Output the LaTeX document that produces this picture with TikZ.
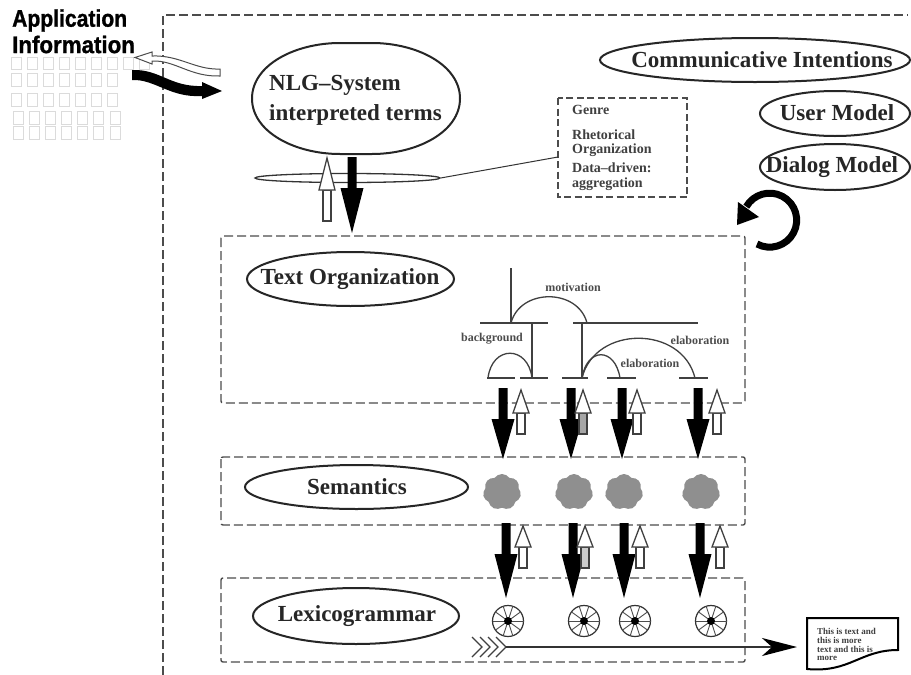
\documentclass[tikz,border=0pt]{standalone}
\usepackage{fontspec}
\usetikzlibrary{shapes.geometric,shapes.symbols,arrows.meta}
\newfontfamily\headfont[BoldFeatures={FakeBold=1.2}]{Liberation Sans}
\newfontfamily\serifbold{Liberation Serif Bold}
\definecolor{dashgray}{gray}{0.3}
\definecolor{gridgray}{gray}{0.86}
\definecolor{cloudgray}{gray}{0.56}
\tikzset{
  framebox/.style={draw=dashgray,line width=1.4pt,dash pattern=on 9pt off 4pt},
  oval/.style={ellipse,draw=black!85,line width=2pt,inner sep=0pt},
  bigtext/.style={font=\fontsize{23}{25}\serifbold\selectfont,text=black!85,inner sep=0pt},
  smalltext/.style={font=\fontsize{14}{15}\serifbold\selectfont,text=black!75,anchor=west,inner sep=0pt},
  rsttext/.style={font=\fontsize{12}{14}\serifbold\selectfont,text=black!70,inner sep=0pt},
  doctext/.style={font=\fontsize{9}{10}\serifbold\selectfont,text=black!75,anchor=west,inner sep=0pt},
  headtext/.style={font=\headfont\bfseries\fontsize{24}{24}\selectfont,anchor=west,inner sep=0pt},
  rstline/.style={draw=black!75,line width=1.3pt},
  cell/.style={draw=gridgray,line width=1pt},
  hollow/.style={draw=black!75,line width=1.3pt,fill=white},
  puff/.style={cloud,cloud puffs=7,cloud puff arc=110,aspect=1.1,fill=cloudgray,draw=none,minimum width=38pt,minimum height=36pt,inner sep=0pt},
}
\newcommand{\solidarr}[4]{\fill[black] ({#1-4.5},#2) -- ({#1+4.5},#2) -- ({#1+4.5},#3) -- ({#1+11.5},#3) -- (#1,#4) -- ({#1-11.5},#3) -- ({#1-4.5},#3) -- cycle;}
\newcommand{\openarr}[5]{%
  \draw[hollow,fill=#5] ({#1-4},#3) -- ({#1+4},#3) -- ({#1+4},#4) -- ({#1-4},#4) -- cycle;
  \draw[hollow] ({#1-4},#3) -- ({#1-8},#3) -- (#1,#2) -- ({#1+8},#3) -- ({#1+4},#3) -- cycle;}
\newcommand{\wheel}[3]{%
  \node[circle,draw=black!80,line width=1.2pt,minimum size=31pt,inner sep=0pt] (#1) at (#2,#3) {};
  \foreach \a in {0,36,...,324} {\draw[black!70,line width=.9pt] (#2,#3) -- ++(\a:15.5);}
  \fill[black] (#2,#3) circle[radius=4];}
\begin{document}
\begin{tikzpicture}[x=1pt,y=-1pt]
\useasboundingbox (0,0) rectangle (911,675);
\fill[white] (0,0) rectangle (911,675);
% grid of application data
\foreach \x in {11,27,43,59,75,91,107,123,139} {\draw[cell] (\x,57) rectangle ++(10,12);}
\foreach \x in {11,27,43,59,75,91,107} {\draw[cell] (\x,73) rectangle ++(10,13);}
\foreach \x in {11,27,43,59,75,91,107} {\draw[cell] (\x,93) rectangle ++(10,13);}
\foreach \x in {13,29,45,61,77,93,110} {\draw[cell] (\x,111) rectangle ++(10,13); \draw[cell] (\x,126) rectangle ++(10,13);}
\node[headtext,xscale=.88] (app) at (12,20.5) {Application};
\node[headtext,xscale=.93] (info) at (12,44.5) {Information};
% frames
\draw[framebox] (163,675) -- (163,15) -- (908,15);
\draw[framebox,rounded corners=2pt] (221,236) rectangle (745,403);
\draw[framebox,rounded corners=2pt] (221,457) rectangle (745,525);
\draw[framebox,rounded corners=2pt] (221,578) rectangle (745,662);
% wavy arrows
\draw[draw=black!70,line width=1pt,fill=white] (220,69) .. controls (195,70) and (180,55) .. (152,56) -- (152,52) -- (135,57.5) -- (152,64) -- (152,61) .. controls (175,60) and (190,77) .. (220,76) -- cycle;
\fill[black] (132,70) .. controls (160,69) and (170,87) .. (202,86) -- (202,82) -- (222,91) -- (202,99) -- (202,96) .. controls (170,98) and (155,79) .. (132,80) -- cycle;
% NLG oval
\draw[black!85,line width=2pt] (252,98.5) .. controls (252,65) and (295,43) .. (340,43) -- (372,43) .. controls (417,43) and (460,65) .. (460,98.5) .. controls (460,132) and (417,154) .. (372,154) -- (340,154) .. controls (295,154) and (252,132) .. (252,98.5) -- cycle;
\node[bigtext,anchor=west] (nlga) at (269,85) {NLG–System};
\node[bigtext,anchor=west] (nlgb) at (269,115) {interpreted terms};
% small ellipse and genre box
\node[ellipse,draw=black!80,line width=1.3pt,minimum width=185pt,minimum height=9pt,inner sep=0pt] (rst) at (347.5,178) {};
\draw[framebox,line width=1.2pt,dash pattern=on 7pt off 3.5pt] (558,98) rectangle (687,197);
\coordinate (genreleft) at (558,157);
\draw[black!80,line width=1pt] (rst.east) -- (genreleft);
\node[smalltext] (g1) at (572,110) {Genre};
\node[smalltext] (g2) at (572,134.5) {Rhetorical};
\node[smalltext] (g3) at (572,150) {Organization};
\node[smalltext] (g4) at (572,168) {Data–driven:};
\node[smalltext] (g5) at (572,184) {aggregation};
% arrows at the top
\openarr{327}{158}{190}{221}{white}
\solidarr{352}{157}{188}{233}
% models
\node[oval,minimum width=310pt,minimum height=44pt] (ci) at (755,60) {};
\node[bigtext] (citext) at (762,60) {Communicative Intentions};
\node[oval,minimum width=150pt,minimum height=45pt] (um) at (835,113.5) {};
\node[bigtext] (umtext) at (837,113) {User Model};
\node[oval,minimum width=150pt,minimum height=46pt] (dm) at (835,167) {};
\node[bigtext] (dmtext) at (832,167) {Dialog Model};
% loop arrow
\draw[black,line width=7pt] (757,244) arc[start angle=118,end angle=-150,radius=27];
\fill[black] (737,225) -- (738,202) -- (759,217) -- cycle;
% layers
\node[oval,minimum width=207pt,minimum height=54pt] (txt) at (350.5,279) {};
\node[bigtext] (txttext) at (350,279) {Text Organization};
\node[oval,minimum width=223pt,minimum height=44pt] (sem) at (356.5,487) {};
\node[bigtext] (semtext) at (357,487) {Semantics};
\node[oval,minimum width=206pt,minimum height=56pt] (lex) at (356,616) {};
\node[bigtext] (lextext) at (357,616) {Lexicogrammar};
% rhetorical tree
\draw[rstline] (511,268) -- (511,323);
\draw[rstline] (480,323) -- (548,323);
\draw[rstline] (573,323) -- (698,323);
\draw[rstline] (532,323) -- (532,378);
\draw[rstline] (582,323) -- (582,378);
\draw[rstline] (487,378) -- (515,378);
\draw[rstline] (520,378) -- (548,378);
\draw[rstline] (562,378) -- (588,378);
\draw[rstline] (607,378) -- (636,378);
\draw[rstline] (679,378) -- (708,378);
\draw[rstline] (511,323) .. controls (520,288) and (578,288) .. (587,323);
\draw[rstline] (488,378) .. controls (492,345) and (528,345) .. (532,378);
\draw[rstline] (582,378) .. controls (587,347) and (615,347) .. (620,378);
\draw[rstline] (582,378) .. controls (595,325) and (682,325) .. (695,378);
\node[rsttext] (mot) at (573,287) {motivation};
\node[rsttext] (bac) at (492,339) {background};
\node[rsttext] (el1) at (700,340) {elaboration};
\node[rsttext] (el2) at (650,363) {elaboration};
% arrows, text organization to semantics
\solidarr{503}{388}{419}{459}
\openarr{521}{390}{413}{434}{white}
\solidarr{571}{388}{419}{459}
\openarr{583}{390}{413}{434}{black!35}
\solidarr{622}{388}{419}{459}
\openarr{637}{390}{413}{434}{white}
\solidarr{698}{388}{419}{459}
\openarr{717}{390}{413}{434}{white}
% clouds
\node[puff] (c1) at (502,492) {};
\node[puff] (c2) at (574,492) {};
\node[puff] (c3) at (624,492) {};
\node[puff] (c4) at (701,492) {};
% arrows, semantics to lexicogrammar
\solidarr{506}{523}{554}{598}
\openarr{523}{526}{547}{568}{white}
\solidarr{573}{523}{554}{598}
\openarr{585}{526}{547}{568}{black!20}
\solidarr{624}{523}{554}{598}
\openarr{640}{526}{547}{568}{white}
\solidarr{700}{523}{554}{598}
\openarr{720}{526}{547}{568}{white}
% wheels
\wheel{w1}{508}{621}
\wheel{w2}{584}{621}
\wheel{w3}{635}{621}
\wheel{w4}{711}{621}
% output arrow
\foreach \x in {472,480,488,496} {\draw[black!75,line width=1.2pt] (\x,637) -- (\x+10,647) -- (\x,657);}
\coordinate (outstart) at (506,647);
\coordinate (outend) at (797,647);
\draw[black!80,line width=2.2pt,-{Stealth[length=35pt,width=18pt,inset=10pt,black]}] (outstart) -- (outend);
% document
\draw[black,line width=2pt,fill=white] (807,618) -- (898,618) -- (898,650) .. controls (860,650) and (850,673) .. (807,669) -- cycle;
\node[doctext] (d1) at (817,631) {This is text and};
\node[doctext] (d2) at (817,640) {this is more};
\node[doctext] (d3) at (817,649) {text and this is};
\node[doctext] (d4) at (817,658) {more};
\end{tikzpicture}
\end{document}
